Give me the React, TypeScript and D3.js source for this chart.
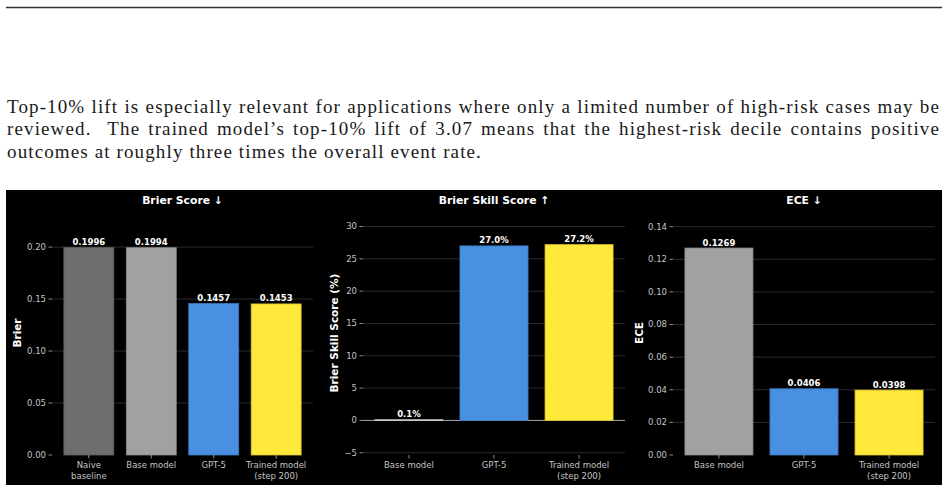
import { useEffect, useRef } from "react"
import * as d3 from "d3"

// Brier score panel (four models, lower is better)
const brierModels = ["Naive\nbaseline", "Base model", "GPT-5", "Trained model\n(step 200)"]
const brierValues = [0.1996, 0.1994, 0.1457, 0.1453]
const brierColors = ["#6e6e6e", "#a1a1a1", "#4a90e2", "#ffe83a"]
const brierTicks = [0, 0.05, 0.1, 0.15, 0.2]

// Brier skill score and ECE panels share these three models
const cmpModels = ["Base model", "GPT-5", "Trained model\n(step 200)"]
const cmpColors = ["#a1a1a1", "#4a90e2", "#ffe83a"]
const bssValues = [0.1, 27.0, 27.2]
const bssTicks = [-5, 0, 5, 10, 15, 20, 25, 30]
const eceValues = [0.1269, 0.0406, 0.0398]
const eceTicks = [0, 0.02, 0.04, 0.06, 0.08, 0.1, 0.12, 0.14]

const paragraph = [
  "Top-10% lift is especially relevant for applications where only a limited number of high-risk cases may be",
  "reviewed.  The trained model\u2019s top-10% lift of 3.07 means that the highest-risk decile contains positive",
  "outcomes at roughly three times the overall event rate.",
]

const W = 948
const H = 492
const TOP = 211
const BOTTOM = 455
const FONT = "'DejaVu Sans', sans-serif"

interface PanelProps {
  title: string
  ylabel: string
  labels: string[]
  values: number[]
  colors: string[]
  x0: number
  x1: number
  yDomain: [number, number]
  ticks: number[]
  tickFmt: (v: number) => string
  valueFmt: (v: number) => string
  ylabelX: number
  zeroLine?: boolean
}

function Panel(p: PanelProps) {
  const n = p.labels.length
  const x = d3
    .scaleBand<number>()
    .domain(d3.range(n))
    .range([p.x0, p.x1])
    .paddingInner(0.2)
    .paddingOuter(0.05 * (n - 0.2))
  const y = d3.scaleLinear().domain(p.yDomain).range([BOTTOM, TOP])
  const cx = (p.x0 + p.x1) / 2
  const cy = (TOP + BOTTOM) / 2

  return (
    <g fontFamily={FONT}>
      {/* grid */}
      {p.ticks
        .filter((t) => Math.abs(y(t) - BOTTOM) > 1 && !(p.zeroLine && t === 0))
        .map((t) => (
          <line key={"g" + t} x1={p.x0} x2={p.x1} y1={y(t)} y2={y(t)} stroke="#363636" strokeWidth={0.8} />
        ))}
      {p.zeroLine && <line x1={p.x0} x2={p.x1} y1={y(0)} y2={y(0)} stroke="#a8a8a8" strokeWidth={1} />}

      {/* bars */}
      {p.values.map((v, i) => {
        const top = Math.min(y(0), y(v))
        const h = Math.max(Math.abs(y(v) - y(0)), 0.6)
        const c = d3.color(p.colors[i])!
        return (
          <rect
            key={"b" + i}
            x={x(i)}
            y={top}
            width={x.bandwidth()}
            height={h}
            fill={p.colors[i]}
            stroke={h < 2 ? "#d8d8d8" : c.darker(0.5).formatHex()}
            strokeWidth={0.8}
          />
        )
      })}

      {/* value labels */}
      {p.values.map((v, i) => (
        <text
          key={"v" + i}
          x={x(i)! + x.bandwidth() / 2}
          y={Math.min(y(v), y(0)) - 2.5}
          textAnchor="middle"
          fontSize={8.5}
          fontWeight="bold"
          fill="#ffffff"
        >
          {p.valueFmt(v)}
        </text>
      ))}

      {/* y axis */}
      {p.ticks.map((t) => (
        <g key={"t" + t}>
          <line x1={p.x0 - 3.5} x2={p.x0} y1={y(t)} y2={y(t)} stroke="#b0b0b0" strokeWidth={0.8} />
          <text x={p.x0 - 6} y={y(t)} dy="0.34em" textAnchor="end" fontSize={8.5} fill="#c4c4c4">
            {p.tickFmt(t)}
          </text>
        </g>
      ))}

      {/* x axis */}
      {p.labels.map((lab, i) => {
        const mx = x(i)! + x.bandwidth() / 2
        return (
          <g key={"x" + i}>
            <line x1={mx} x2={mx} y1={BOTTOM} y2={BOTTOM + 3.5} stroke="#b0b0b0" strokeWidth={0.8} />
            <text x={mx} y={BOTTOM + 13} textAnchor="middle" fontSize={8.5} fill="#c4c4c4">
              {lab.split("\n").map((s, k) => (
                <tspan key={k} x={mx} dy={k === 0 ? 0 : 10.5}>
                  {s}
                </tspan>
              ))}
            </text>
          </g>
        )
      })}

      <text x={cx} y={204} textAnchor="middle" fontSize={10.8} fontWeight="bold" fill="#ffffff">
        {p.title}
      </text>
      <text
        transform={`translate(${p.ylabelX},${cy}) rotate(-90)`}
        textAnchor="middle"
        dy="0.36em"
        fontSize={10.5}
        fontWeight="bold"
        fill="#ffffff"
      >
        {p.ylabel}
      </text>
    </g>
  )
}

const fmt2 = d3.format(".2f")
const fmt4 = d3.format(".4f")
const fmtInt = (v: number) => (v < 0 ? "\u2212" + Math.abs(v) : String(v))

export default function App() {
  const lineRefs = useRef<(SVGTextElement | null)[]>([])

  // justify the first two paragraph lines like the typeset page
  useEffect(() => {
    const els = lineRefs.current
    const last = els[2]
    if (!last) return
    const natural = last.getComputedTextLength()
    const ls = (475 - natural) / paragraph[2].length
    els.forEach((el) => el && el.setAttribute("letter-spacing", String(ls)))
    ;[0, 1].forEach((i) => {
      const el = els[i]
      if (!el) return
      const w = el.getComputedTextLength()
      const spaces = (paragraph[i].match(/ /g) || []).length
      el.setAttribute("word-spacing", String((933 - w) / spaces))
    })
  }, [])

  return (
    <svg width={W} height={H} style={{ position: "absolute", left: 0, top: 0, background: "#fff" }}>
      <line x1={6} x2={942} y1={7.5} y2={7.5} stroke="#333" strokeWidth={1.6} />

      {paragraph.map((s, i) => (
        <text
          key={i}
          ref={(el) => {
            lineRefs.current[i] = el
          }}
          x={7}
          y={112.5 + i * 22.8}
          fontFamily="'Liberation Serif', serif"
          fontSize={19}
          fill="#1a1a1a"
          style={{ whiteSpace: "pre" }}
        >
          {s}
        </text>
      ))}

      <rect x={6} y={190} width={936} height={295} fill="#000" />

      <Panel
        title="Brier Score ↓"
        ylabel="Brier"
        labels={brierModels}
        values={brierValues}
        colors={brierColors}
        x0={52}
        x1={313}
        yDomain={[0, 0.2347]}
        ticks={brierTicks}
        tickFmt={fmt2}
        valueFmt={fmt4}
        ylabelX={17.5}
      />
      <Panel
        title="Brier Skill Score ↑"
        ylabel="Brier Skill Score (%)"
        labels={cmpModels}
        values={bssValues}
        colors={cmpColors}
        x0={363}
        x1={625}
        yDomain={[-5.35, 32.4]}
        ticks={bssTicks}
        tickFmt={fmtInt}
        valueFmt={(v) => v.toFixed(1) + "%"}
        ylabelX={334}
        zeroLine
      />
      <Panel
        title="ECE ↓"
        ylabel="ECE"
        labels={cmpModels}
        values={eceValues}
        colors={cmpColors}
        x0={673}
        x1={935}
        yDomain={[0, 0.1496]}
        ticks={eceTicks}
        tickFmt={fmt2}
        valueFmt={fmt4}
        ylabelX={639}
      />
    </svg>
  )
}
